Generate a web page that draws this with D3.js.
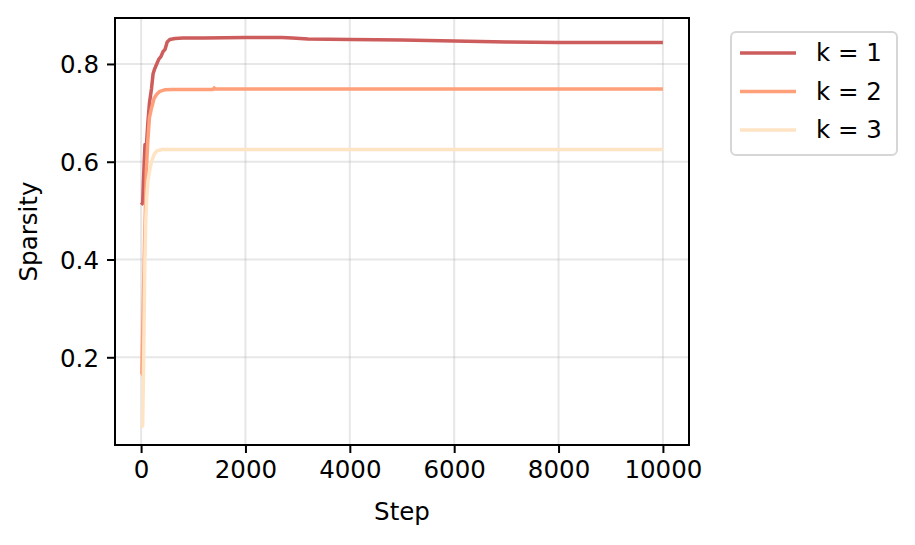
<!DOCTYPE html>
<meta charset="utf-8">
<html>
<head>
<script src="https://d3js.org/d3.v7.min.js" charset="utf-8"></script>
<style>
body { margin: 0; background: #fff; }
text { font-family: "DejaVu Sans", sans-serif; }
.axis text { font-size: 24.5px; fill: #000; font-family: "DejaVu Sans", sans-serif; }
.axis line { stroke: #000; stroke-width: 2; }
.grid line { stroke: #b0b0b0; stroke-opacity: 0.3; stroke-width: 2; }
</style>
</head>
<body>
<svg width="915" height="545"></svg>
<script>
// sparsity per training step
var stepsK1 = [0, 30, 45, 60, 75, 85, 100, 130, 160, 200, 230, 260, 300, 340, 380, 420, 460, 500, 550, 650, 800, 1200, 2000, 2700, 2900, 3200, 4000, 5000, 6000, 7000, 8000, 9000, 10000];
var valsK1 = [0.512, 0.515, 0.56, 0.60, 0.635, 0.62, 0.63, 0.68, 0.72, 0.75, 0.78, 0.79, 0.80, 0.81, 0.815, 0.825, 0.83, 0.845, 0.850, 0.852, 0.853, 0.853, 0.854, 0.854, 0.853, 0.851, 0.850, 0.849, 0.847, 0.845, 0.844, 0.844, 0.844];

var stepsK2 = [0, 15, 40, 70, 100, 130, 160, 200, 250, 300, 360, 450, 600, 1000, 1380, 1400, 1420, 3000, 6000, 10000];
var valsK2 = [0.165, 0.165, 0.3, 0.45, 0.58, 0.645, 0.69, 0.71, 0.73, 0.738, 0.744, 0.747, 0.748, 0.748, 0.748, 0.751, 0.749, 0.749, 0.749, 0.749];

var stepsK3 = [0, 30, 50, 70, 90, 110, 130, 160, 200, 250, 300, 400, 600, 10000];
var valsK3 = [0.057, 0.06, 0.2, 0.38, 0.48, 0.53, 0.56, 0.58, 0.6, 0.615, 0.622, 0.625, 0.625, 0.625];

var labels = ["k = 1", "k = 2", "k = 3"];
var colors = ["#cd5c5c", "#ffa07a", "#ffe4c4"];
var xTicks = [0, 2000, 4000, 6000, 8000, 10000];
var yTicks = [0.2, 0.4, 0.6, 0.8];

var series = [
  {steps: stepsK1, vals: valsK1},
  {steps: stepsK2, vals: valsK2},
  {steps: stepsK3, vals: valsK3}
];

var svg = d3.select("svg"),
    margin = {top: 18, left: 115, right: 226, bottom: 100},
    width = 915 - margin.left - margin.right,
    height = 545 - margin.top - margin.bottom,
    g = svg.append("g").attr("transform", "translate(" + margin.left + "," + margin.top + ")");

var x = d3.scaleLinear().domain([-500, 10500]).range([0, width]);
var y = d3.scaleLinear().domain([0.0206, 0.894]).range([height, 0]);

// grid
g.append("g").attr("class", "grid")
  .selectAll("line").data(xTicks).enter().append("line")
    .attr("x1", function(d) { return x(d); }).attr("x2", function(d) { return x(d); })
    .attr("y1", 0).attr("y2", height);
g.append("g").attr("class", "grid")
  .selectAll("line").data(yTicks).enter().append("line")
    .attr("y1", function(d) { return y(d); }).attr("y2", function(d) { return y(d); })
    .attr("x1", 0).attr("x2", width);

var line = d3.line()
  .x(function(d) { return x(d[0]); })
  .y(function(d) { return y(d[1]); });

series.forEach(function(s, i) {
  g.append("path")
    .datum(d3.zip(s.steps, s.vals))
    .attr("fill", "none")
    .attr("stroke", colors[i])
    .attr("stroke-width", 3.5)
    .attr("stroke-linejoin", "round")
    .attr("d", line);
});

var xAxis = g.append("g")
  .attr("class", "axis")
  .attr("transform", "translate(0," + height + ")")
  .call(d3.axisBottom(x).tickValues(xTicks).tickFormat(d3.format("d")).tickSize(8).tickPadding(8));
xAxis.select(".domain").remove();

var yAxis = g.append("g")
  .attr("class", "axis")
  .call(d3.axisLeft(y).tickValues(yTicks).tickFormat(d3.format(".1f")).tickSize(8).tickPadding(8));
yAxis.select(".domain").remove();
yAxis.selectAll("text").attr("dy", "0.36em");

g.append("rect")
  .attr("width", width).attr("height", height)
  .attr("fill", "none").attr("stroke", "#000").attr("stroke-width", 2);

g.append("text")
  .attr("x", width / 2).attr("y", height + 75)
  .attr("text-anchor", "middle")
  .style("font-size", "24.5px")
  .text("Step");

g.append("text")
  .attr("transform", "translate(" + (-78) + "," + (height / 2) + ") rotate(-90)")
  .attr("text-anchor", "middle")
  .style("font-size", "24.5px")
  .text("Sparsity");

// legend
var lg = svg.append("g").attr("transform", "translate(731,32)");
lg.append("rect")
  .attr("width", 166).attr("height", 123).attr("rx", 5)
  .attr("fill", "#fff").attr("stroke", "#d6d6d6").attr("stroke-width", 2);
labels.forEach(function(l, i) {
  var yy = 21 + i * 38.5;
  lg.append("line")
    .attr("x1", 9).attr("x2", 65).attr("y1", yy).attr("y2", yy)
    .attr("stroke", colors[i]).attr("stroke-width", 3.5);
  lg.append("text")
    .attr("x", 85).attr("y", yy + 8)
    .style("font-size", "24.5px")
    .text(l);
});
</script>
</body>
</html>
